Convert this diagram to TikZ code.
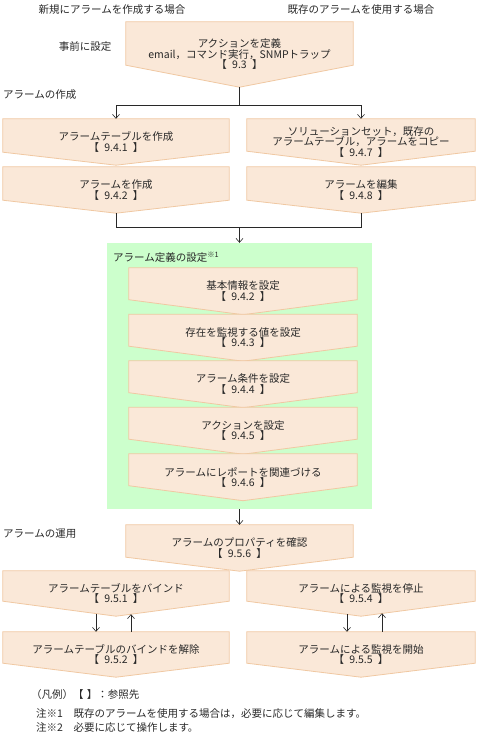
\documentclass[tikz,border=0pt]{standalone}
\usepackage{fontspec}
\setmainfont{Noto Sans CJK JP}
\usetikzlibrary{arrows.meta,calc,backgrounds}
\definecolor{BoxFill}{RGB}{250,232,216}
\definecolor{BoxLine}{RGB}{240,200,162}
\definecolor{GroupFill}{RGB}{204,255,204}
\definecolor{InkGray}{RGB}{40,40,40}
\newcommand{\refmark}[1]{【\hspace{0.5em}#1\hspace{0.5em}】}

\tikzset{
  chev/.style={inner sep=0pt,align=center},
  txt/.style={inner sep=0pt},
  conn/.style={InkGray,line width=0.6bp}
}

\begin{document}
\begin{tikzpicture}[x=1bp,y=-1bp,>={Straight Barb[length=4bp,width=7bp]},
  font=\fontsize{10.5bp}{10.5bp}\selectfont,text=InkGray]
  \useasboundingbox (0,0) rectangle (477,738);
  % headings
  \node[txt] (hnew) at (112,10) {新規にアラームを作成する場合};
  \node[txt] (hold) at (361,10) {既存のアラームを使用する場合};
  \node[txt] (pre) at (85,47) {事前に設定};
  \node[txt,anchor=west] (secmake) at (3,95) {アラームの作成};
  \node[txt,anchor=west] (secuse) at (3,534) {アラームの運用};
  % boxes
  \node[chev,minimum width=227bp,minimum height=65bp] (def) at (239.5,54.5)
    {アクションを定義\\email，コマンド実行，SNMPトラップ\\\refmark{9.3}};
  \node[chev,minimum width=226bp,minimum height=46bp] (ltab) at (116,142)
    {アラームテーブルを作成\\\refmark{9.4.1}};
  \node[chev,minimum width=228bp,minimum height=46bp] (rcopy) at (361,142)
    {ソリューションセット，既存の\\アラームテーブル，アラームをコピー\\\refmark{9.4.7}};
  \node[chev,minimum width=226bp,minimum height=46bp] (lalm) at (116,190)
    {アラームを作成\\\refmark{9.4.2}};
  \node[chev,minimum width=228bp,minimum height=46bp] (redit) at (361,190)
    {アラームを編集\\\refmark{9.4.8}};
  % alarm definition group
  \node[inner sep=0pt,minimum width=265bp,minimum height=266bp] (grp) at (239.5,376) {};
  \node[txt,anchor=west] (grplbl) at (113,257) {アラーム定義の設定\textsuperscript{※1}};
  \node[chev,minimum width=228bp,minimum height=46.5bp] (basic) at (243,291.25)
    {基本情報を設定\\\refmark{9.4.2}};
  \node[chev,minimum width=228bp,minimum height=46.5bp] (value) at (243,337.75)
    {存在を監視する値を設定\\\refmark{9.4.3}};
  \node[chev,minimum width=228bp,minimum height=46.5bp] (cond) at (243,384.25)
    {アラーム条件を設定\\\refmark{9.4.4}};
  \node[chev,minimum width=228bp,minimum height=46.5bp] (act) at (243,430.75)
    {アクションを設定\\\refmark{9.4.5}};
  \node[chev,minimum width=228bp,minimum height=46.5bp] (rep) at (243,477.25)
    {アラームにレポートを関連づける\\\refmark{9.4.6}};
  % operation
  \node[chev,minimum width=227bp,minimum height=46bp] (prop) at (239.5,548)
    {アラームのプロパティを確認\\\refmark{9.5.6}};
  \node[chev,minimum width=226bp,minimum height=45bp] (bind) at (116,593.5)
    {アラームテーブルをバインド\\\refmark{9.5.1}};
  \node[chev,minimum width=228bp,minimum height=45bp] (stop) at (361,593.5)
    {アラームによる監視を停止\\\refmark{9.5.4}};
  \node[chev,minimum width=226bp,minimum height=45bp] (unbind) at (116,654.5)
    {アラームテーブルのバインドを解除\\\refmark{9.5.2}};
  \node[chev,minimum width=228bp,minimum height=45bp] (start) at (361,654.5)
    {アラームによる監視を開始\\\refmark{9.5.5}};
  % legend and notes
  \node[txt,anchor=west] (leg) at (31,695) {（凡例）【\hspace{0.3em}】：参照先};
  \node[txt,anchor=west] (note1) at (36,714) {注※1　既存のアラームを使用する場合は，必要に応じて編集します。};
  \node[txt,anchor=west] (note2) at (36,728) {注※2　必要に応じて操作します。};

  \begin{scope}[on background layer]
    \fill[GroupFill] (grp.north west) rectangle (grp.south east);
    \foreach \n/\t in {def/22,ltab/13,rcopy/14,lalm/13,redit/13,basic/15,value/15,
        cond/15,act/15,rep/15,prop/14,bind/15,stop/15,unbind/14,start/14}
      \draw[BoxLine,fill=BoxFill,line width=0.8bp] (\n.north west) -- (\n.north east)
        -- ([yshift=\t bp]\n.south east) -- (\n.south) -- ([yshift=\t bp]\n.south west) -- cycle;
  \end{scope}

  % connectors
  \draw[conn] (def.south) -- ++(0,18) coordinate (c1);
  \draw[conn] (c1 -| ltab.north) -- (c1 -| rcopy.north);
  \draw[conn,->] (c1 -| ltab.north) -- (ltab.north);
  \draw[conn,->] (c1 -| rcopy.north) -- (rcopy.north);
  \draw[conn] (lalm.south) -- ++(0,14) coordinate (c2) -| (redit.south);
  \draw[conn,->] (c2 -| grp.north) -- (grp.north);
  \draw[conn,->] (grp.south) -- (prop.north);
  \draw[conn,->] ([xshift=-20bp,yshift=2.5bp]bind.south) -- ([xshift=-20bp]unbind.north);
  \draw[conn,->] ([xshift=15bp]unbind.north) -- ([xshift=15bp,yshift=2bp]bind.south);
  \draw[conn,->] ([xshift=-14bp,yshift=2bp]stop.south) -- ([xshift=-14bp]start.north);
  \draw[conn,->] ([xshift=21bp]start.north) -- ([xshift=21bp,yshift=3bp]stop.south);
\end{tikzpicture}
\end{document}
